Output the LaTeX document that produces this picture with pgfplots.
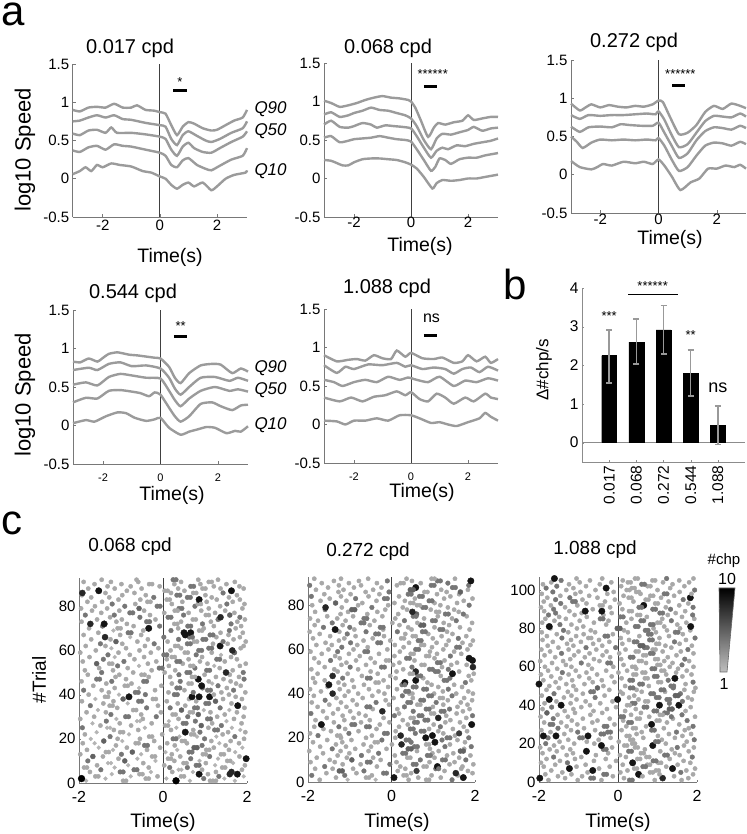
\documentclass[border=0pt]{standalone}
\usepackage{fontspec}
\setmainfont{Liberation Sans}
\usepackage{pgfplots}
\usepackage{pgfplotstable}
\pgfplotsset{compat=1.18}
\newcommand\fs[1]{\fontsize{#1bp}{#1bp}\selectfont}
\definecolor{cv}{RGB}{155,155,155}
\definecolor{axc}{RGB}{120,120,120}
\pgfplotsset{
 aax/.style={scale only axis, anchor=south west, clip=false,
   axis x line*=bottom, axis y line*=left, axis line style={axc, line width=0.8bp},
   xmin=-3.05, xmax=3.05, ymin=-0.5, ymax=1.5,
   xtick={-2,0,2}, ytick={-0.5,0,0.5,1,1.5},
   tick align=inside, major tick length=3bp, tick style={axc, line width=0.6bp},
   ticklabel style={font=\fs{15}},
   /pgf/number format/assume math mode=true},
 curve/.style={line width=2.4bp, color=cv, smooth, tension=0.35, no markers},
 zline/.style={black!75, line width=0.8bp, no markers},
 sig/.style={black, line width=3bp, no markers},
 cax/.style={scale only axis, anchor=south west, clip=false,
   axis x line*=bottom, axis y line*=left, axis line style={axc, line width=0.8bp},
   xmin=-2, xmax=2, ymin=0, xtick={-2,0,2},
   tick align=inside, major tick length=2bp, tick style={axc},
   ticklabel style={font=\fs{15}},
   xticklabel style={font=\fs{16}, yshift=-5bp},
   /pgf/number format/assume math mode=true},
 rast/.style={only marks, scatter, mark=*, point meta=explicit,
   point meta min=1, point meta max=10,
   scatter/use mapped color={draw=mapped color, fill=mapped color},
   visualization depends on={\thisrow{m} \as \msz},
   scatter/@pre marker code/.append style={/tikz/mark size=1.6bp+0.18bp*\msz}},
}
\pgfplotsset{colormap={chp}{rgb255(1cm)=(192,192,192) rgb255(3cm)=(168,168,168) rgb255(4cm)=(118,118,118) rgb255(6cm)=(78,78,78) rgb255(10cm)=(0,0,0)}}
\begin{document}
\begin{tikzpicture}[x=1bp,y=1bp]
\useasboundingbox (0,0) rectangle (747,834);
% panel labels
\node[anchor=base west, font=\fs{42}, inner sep=0] at (1,834-26) {a};
\node[anchor=base west, font=\fs{42}, inner sep=0] at (503,834-300) {b};
\node[anchor=base west, font=\fs{42}, inner sep=0] at (1,834-535) {c};

% ---------- axis 1: 0.017
\begin{axis}[aax, at={(72.7bp,617bp)}, width=174.3bp, height=153bp]
\addplot[zline] coordinates {(0,-0.5)(0,1.5)};
\addplot[curve] coordinates {(-3.05,0.90)(-2.8,0.88)(-2.5,0.93)(-2.2,0.94)(-1.9,0.93)(-1.6,0.98)(-1.3,0.93)(-1.0,0.93)(-0.8,0.96)(-0.5,0.90)(-0.2,0.89)(0,0.87)(0.2,0.85)(0.4,0.70)(0.6,0.57)(0.8,0.68)(1.0,0.74)(1.2,0.72)(1.5,0.66)(1.8,0.63)(2.0,0.64)(2.3,0.70)(2.6,0.76)(2.9,0.80)(3.05,0.90)};
\addplot[curve] coordinates {(-3.05,0.75)(-2.8,0.76)(-2.5,0.80)(-2.2,0.83)(-1.9,0.80)(-1.6,0.83)(-1.3,0.78)(-1.0,0.77)(-0.5,0.73)(0,0.70)(0.2,0.68)(0.4,0.52)(0.6,0.44)(0.8,0.57)(1.0,0.62)(1.3,0.56)(1.6,0.50)(1.8,0.48)(2.1,0.52)(2.5,0.60)(2.9,0.66)(3.05,0.75)};
\addplot[curve] coordinates {(-3.05,0.59)(-2.8,0.57)(-2.5,0.63)(-2.2,0.64)(-1.9,0.60)(-1.7,0.67)(-1.5,0.60)(-1.0,0.60)(-0.5,0.58)(0,0.55)(0.2,0.52)(0.4,0.38)(0.6,0.30)(0.8,0.42)(1.0,0.47)(1.2,0.40)(1.5,0.35)(1.8,0.34)(2.1,0.40)(2.5,0.48)(2.9,0.55)(3.05,0.62)};
\addplot[curve] coordinates {(-3.05,0.37)(-2.8,0.35)(-2.5,0.41)(-2.2,0.43)(-1.9,0.38)(-1.6,0.45)(-1.3,0.43)(-1.0,0.42)(-0.5,0.38)(0,0.34)(0.2,0.30)(0.4,0.18)(0.6,0.15)(0.8,0.24)(1.0,0.27)(1.3,0.18)(1.6,0.13)(1.8,0.11)(2.1,0.17)(2.5,0.25)(2.9,0.30)(3.05,0.40)};
\addplot[curve] coordinates {(-3.05,0.06)(-2.8,0.10)(-2.6,0.15)(-2.4,0.10)(-2.2,0.18)(-2.0,0.15)(-1.7,0.20)(-1.4,0.18)(-1.0,0.16)(-0.6,0.10)(-0.3,0.08)(0,0.03)(0.2,0.0)(0.4,-0.08)(0.6,-0.13)(0.8,-0.08)(1.0,-0.05)(1.2,-0.10)(1.5,-0.05)(1.8,-0.15)(2.0,-0.10)(2.3,0.0)(2.6,0.05)(3.0,0.08)(3.05,0.11)};
\addplot[sig] coordinates {(0.47,1.15)(0.94,1.15)};
\node[font=\fs{13}] at (axis cs:0.70,1.27) {*};
\end{axis}

% ---------- axis 2: 0.068
\begin{axis}[aax, at={(324bp,617bp)}, width=174bp, height=154bp, xticklabel style={yshift=3bp}]
\addplot[zline] coordinates {(0,-0.5)(0,1.5)};
\addplot[curve] coordinates {(-3.05,1.01)(-2.8,0.98)(-2.5,0.93)(-2.2,0.95)(-1.9,0.98)(-1.6,1.02)(-1.3,1.05)(-1.0,1.07)(-0.7,1.05)(-0.4,1.04)(-0.1,1.02)(0,1.00)(0.15,0.92)(0.35,0.75)(0.6,0.54)(0.8,0.66)(0.95,0.72)(1.2,0.70)(1.5,0.73)(1.8,0.75)(2.0,0.82)(2.2,0.76)(2.5,0.78)(2.8,0.80)(3.05,0.80)};
\addplot[curve] coordinates {(-3.05,0.83)(-2.8,0.86)(-2.5,0.80)(-2.2,0.82)(-2.0,0.85)(-1.7,0.88)(-1.4,0.92)(-1.1,0.89)(-0.8,0.88)(-0.5,0.85)(-0.2,0.82)(0,0.78)(0.2,0.68)(0.45,0.50)(0.7,0.38)(0.9,0.52)(1.1,0.58)(1.4,0.57)(1.7,0.60)(2.0,0.63)(2.2,0.67)(2.5,0.62)(2.8,0.65)(3.05,0.66)};
\addplot[curve] coordinates {(-3.05,0.70)(-2.8,0.75)(-2.5,0.67)(-2.2,0.66)(-2.0,0.68)(-1.7,0.72)(-1.4,0.70)(-1.2,0.66)(-0.9,0.69)(-0.6,0.68)(-0.3,0.67)(0,0.65)(0.2,0.55)(0.45,0.40)(0.7,0.27)(0.9,0.36)(1.1,0.40)(1.3,0.38)(1.6,0.43)(1.9,0.42)(2.2,0.45)(2.5,0.47)(2.8,0.49)(3.05,0.52)};
\addplot[curve] coordinates {(-3.05,0.53)(-2.8,0.55)(-2.5,0.47)(-2.2,0.49)(-2.0,0.51)(-1.7,0.52)(-1.4,0.53)(-1.1,0.55)(-0.8,0.53)(-0.5,0.51)(-0.2,0.50)(0,0.48)(0.2,0.38)(0.45,0.24)(0.7,0.10)(0.85,0.15)(1.0,0.26)(1.2,0.24)(1.4,0.19)(1.7,0.25)(2.0,0.27)(2.3,0.27)(2.6,0.30)(3.05,0.33)};
\addplot[curve] coordinates {(-3.05,0.24)(-2.8,0.23)(-2.6,0.20)(-2.4,0.17)(-2.2,0.17)(-2.0,0.21)(-1.7,0.25)(-1.4,0.26)(-1.1,0.26)(-0.8,0.25)(-0.5,0.24)(-0.2,0.21)(0,0.18)(0.2,0.13)(0.45,0.02)(0.75,-0.13)(0.9,-0.06)(1.1,-0.02)(1.4,-0.03)(1.7,-0.02)(2.0,0.0)(2.3,0.0)(2.6,0.02)(3.05,0.05)};
\addplot[sig] coordinates {(0.45,1.20)(0.91,1.20)};
\node[font=\fs{13}] at (axis cs:0.76,1.36) {******};
\end{axis}

% ---------- axis 3: 0.272
\begin{axis}[aax, at={(571bp,621bp)}, width=175bp, height=153bp, xmin=-3, xmax=3, xticklabel style={yshift=2bp}]
\addplot[zline] coordinates {(0,-0.5)(0,1.5)};
\addplot[curve] coordinates {(-3,0.93)(-2.7,0.84)(-2.5,0.88)(-2.3,0.92)(-2.0,0.88)(-1.7,0.91)(-1.4,0.89)(-1.1,0.88)(-0.8,0.90)(-0.5,0.89)(-0.2,0.92)(0,0.97)(0.15,0.95)(0.4,0.75)(0.7,0.53)(1.0,0.55)(1.3,0.65)(1.6,0.82)(1.9,0.90)(2.2,0.86)(2.5,0.93)(2.8,0.90)(3,0.87)};
\addplot[curve] coordinates {(-3,0.78)(-2.7,0.73)(-2.4,0.78)(-2.0,0.77)(-1.6,0.78)(-1.2,0.78)(-0.8,0.79)(-0.4,0.80)(-0.1,0.79)(0,0.83)(0.2,0.72)(0.45,0.52)(0.7,0.36)(1.0,0.40)(1.3,0.55)(1.6,0.70)(1.9,0.77)(2.2,0.76)(2.5,0.75)(2.8,0.80)(3,0.76)};
\addplot[curve] coordinates {(-3,0.63)(-2.7,0.56)(-2.4,0.62)(-2.0,0.63)(-1.6,0.62)(-1.3,0.66)(-1.0,0.65)(-0.6,0.64)(-0.2,0.64)(0,0.68)(0.2,0.55)(0.45,0.38)(0.7,0.22)(1.0,0.28)(1.3,0.45)(1.6,0.57)(1.9,0.62)(2.2,0.61)(2.5,0.59)(2.8,0.64)(3,0.61)};
\addplot[curve] coordinates {(-3,0.50)(-2.8,0.43)(-2.6,0.35)(-2.3,0.42)(-2.0,0.46)(-1.6,0.45)(-1.2,0.46)(-0.8,0.45)(-0.4,0.46)(-0.1,0.45)(0,0.48)(0.2,0.38)(0.45,0.20)(0.7,0.05)(1.0,0.10)(1.3,0.25)(1.6,0.38)(1.9,0.42)(2.2,0.41)(2.5,0.38)(2.8,0.43)(3,0.40)};
\addplot[curve] coordinates {(-3,0.18)(-2.7,0.10)(-2.3,0.07)(-2.1,0.10)(-1.9,0.14)(-1.6,0.12)(-1.2,0.17)(-0.8,0.15)(-0.5,0.17)(-0.2,0.14)(0,0.20)(0.2,0.12)(0.45,-0.02)(0.75,-0.20)(1.1,-0.10)(1.4,-0.05)(1.7,0.08)(2.0,0.08)(2.3,0.12)(2.6,0.10)(2.8,0.13)(3,0.08)};
\addplot[sig] coordinates {(0.47,1.16)(0.91,1.16)};
\node[font=\fs{13}] at (axis cs:0.75,1.31) {******};
\end{axis}

% ---------- axis 4: 0.544
\begin{axis}[aax, at={(73bp,370bp)}, width=175bp, height=154bp, xticklabel style={font=\fs{11}, yshift=-6bp}]
\addplot[zline] coordinates {(0,-0.5)(0,1.5)};
\addplot[curve] coordinates {(-3.05,0.83)(-2.8,0.82)(-2.5,0.87)(-2.2,0.83)(-2.0,0.88)(-1.8,0.93)(-1.5,0.95)(-1.1,0.92)(-0.8,0.91)(-0.6,0.90)(-0.2,0.88)(0,0.87)(0.3,0.76)(0.5,0.62)(0.7,0.55)(1.0,0.68)(1.4,0.78)(1.8,0.80)(2.1,0.79)(2.5,0.68)(2.8,0.74)(3.05,0.70)};
\addplot[curve] coordinates {(-3.05,0.72)(-2.5,0.75)(-2.2,0.72)(-1.8,0.80)(-1.4,0.82)(-1.0,0.77)(-0.5,0.78)(0,0.74)(0.3,0.62)(0.5,0.48)(0.7,0.40)(1.0,0.50)(1.4,0.62)(1.9,0.63)(2.4,0.58)(2.7,0.62)(3.05,0.58)};
\addplot[curve] coordinates {(-3.05,0.53)(-2.6,0.56)(-2.2,0.52)(-1.8,0.63)(-1.4,0.67)(-1.0,0.65)(-0.5,0.62)(0,0.61)(0.3,0.45)(0.5,0.33)(0.7,0.25)(1.0,0.35)(1.4,0.45)(1.9,0.50)(2.4,0.45)(2.7,0.47)(3.05,0.44)};
\addplot[curve] coordinates {(-3.05,0.30)(-2.6,0.36)(-2.2,0.35)(-1.8,0.45)(-1.4,0.46)(-1.0,0.44)(-0.7,0.42)(-0.4,0.38)(-0.2,0.43)(0,0.40)(0.3,0.23)(0.5,0.12)(0.7,0.05)(1.0,0.12)(1.4,0.28)(1.8,0.30)(2.1,0.25)(2.5,0.20)(2.8,0.26)(3.05,0.27)};
\addplot[curve] coordinates {(-3.05,0.03)(-2.6,0.07)(-2.3,0.05)(-1.9,0.12)(-1.5,0.17)(-1.2,0.16)(-0.9,0.10)(-0.5,0.06)(-0.2,0.08)(0,0.10)(0.3,-0.03)(0.7,-0.12)(1.0,-0.08)(1.3,-0.05)(1.6,-0.02)(1.9,-0.03)(2.3,-0.10)(2.6,-0.07)(2.8,-0.08)(3.05,-0.01)};
\addplot[sig] coordinates {(0.47,1.15)(0.94,1.15)};
\node[font=\fs{13}] at (axis cs:0.70,1.29) {**};
\end{axis}

% ---------- axis 5: 1.088
\begin{axis}[aax, at={(324bp,371bp)}, width=174bp, height=154bp, xticklabel style={font=\fs{11}, yshift=-6bp}]
\addplot[zline] coordinates {(0,-0.5)(0,1.5)};
\addplot[curve] coordinates {(-3.05,0.90)(-2.6,0.82)(-2.2,0.84)(-1.9,0.85)(-1.6,0.83)(-1.3,0.90)(-1.0,0.86)(-0.7,0.85)(-0.5,0.96)(-0.2,0.88)(0,0.93)(0.4,0.86)(0.8,0.85)(1.1,0.87)(1.5,0.80)(1.8,0.82)(2.0,0.90)(2.3,0.82)(2.6,0.88)(2.8,0.80)(3.05,0.85)};
\addplot[curve] coordinates {(-3.05,0.77)(-2.6,0.67)(-2.3,0.75)(-2.0,0.72)(-1.5,0.78)(-1.0,0.77)(-0.5,0.80)(-0.2,0.75)(0,0.77)(0.4,0.72)(0.8,0.74)(1.2,0.72)(1.5,0.66)(1.8,0.72)(2.1,0.74)(2.4,0.68)(2.7,0.75)(3.05,0.70)};
\addplot[curve] coordinates {(-3.05,0.58)(-2.7,0.55)(-2.4,0.50)(-2.0,0.55)(-1.6,0.58)(-1.2,0.55)(-0.8,0.62)(-0.4,0.58)(-0.1,0.61)(0.2,0.58)(0.6,0.55)(1.0,0.62)(1.5,0.50)(1.9,0.57)(2.3,0.55)(2.7,0.60)(3.05,0.57)};
\addplot[curve] coordinates {(-3.05,0.35)(-2.5,0.30)(-2.1,0.35)(-1.7,0.30)(-1.3,0.36)(-0.9,0.38)(-0.5,0.43)(-0.2,0.38)(0,0.42)(0.3,0.33)(0.6,0.30)(0.9,0.40)(1.2,0.35)(1.5,0.27)(1.9,0.35)(2.2,0.30)(2.6,0.40)(2.8,0.35)(3.05,0.33)};
\addplot[curve] coordinates {(-3.05,0.05)(-2.6,0.04)(-2.3,0.0)(-2.0,0.05)(-1.6,0.05)(-1.2,0.08)(-0.8,0.05)(-0.4,0.12)(0,0.12)(0.3,0.08)(0.7,0.02)(1.0,0.03)(1.3,0.0)(1.6,-0.02)(2.0,0.03)(2.4,0.08)(2.6,0.15)(2.8,0.10)(3.05,0.05)};
\addplot[sig] coordinates {(0.45,1.16)(0.90,1.16)};
\node[font=\fs{16}] at (axis cs:0.72,1.38) {ns};
\end{axis}

% labels panel a
\node[font=\fs{20}] at (130,834-48) {0.017 cpd};
\node[font=\fs{20}] at (388,834-48) {0.068 cpd};
\node[font=\fs{20}] at (634,834-42) {0.272 cpd};
\node[font=\fs{20}] at (133,834-293) {0.544 cpd};
\node[font=\fs{20}] at (387,834-288) {1.088 cpd};
\node[font=\fs{19.5}] at (170,834-257) {Time(s)};
\node[font=\fs{19.5}] at (420,834-246) {Time(s)};
\node[font=\fs{19.5}] at (670,834-239) {Time(s)};
\node[font=\fs{19.5}] at (172,834-495) {Time(s)};
\node[font=\fs{19.5}] at (422,834-492) {Time(s)};
\node[font=\fs{22}, rotate=90] at (25,834-150) {log10 Speed};
\node[font=\fs{22}, rotate=90] at (25,834-395) {log10 Speed};
\node[font=\fs{17}\itshape, anchor=west] at (251,834-109) {Q90};
\node[font=\fs{17}\itshape, anchor=west] at (251,834-131) {Q50};
\node[font=\fs{17}\itshape, anchor=west] at (251,834-171) {Q10};
\node[font=\fs{17}\itshape, anchor=west] at (251,834-368) {Q90};
\node[font=\fs{17}\itshape, anchor=west] at (251,834-390) {Q50};
\node[font=\fs{17}\itshape, anchor=west] at (251,834-425) {Q10};

% ---------- panel b
\begin{axis}[at={(582bp,372bp)}, anchor=south west, scale only axis, width=163bp, height=174bp,
  xmin=0, xmax=6, ymin=-0.5, ymax=4, clip=false,
  axis x line*=bottom, axis y line*=left, axis line style={black!45, line width=0.8bp},
  xtick={1,2,3,4,5}, xticklabels={0.017,0.068,0.272,0.544,1.088},
  xticklabel style={rotate=90, anchor=east, font=\fs{15.5}},
  ytick={0,1,2,3,4}, yticklabel style={font=\fs{15.5}},
  tick align=inside, major tick length=2bp, tick style={black!45},
  /pgf/number format/assume math mode=true]
\addplot[black!45, line width=0.8bp, no markers] coordinates {(0,0)(6,0)};
\addplot[ybar, bar width=0.55, fill=black, draw=black,
  error bars/.cd, y dir=both, y explicit,
  error bar style={line width=1.6bp, black!40},
  error mark options={rotate=90, black!40, mark size=3bp, line width=1.6bp}]
  table[x=x, y=y, y error plus=ep, y error minus=em, row sep=\\]{
  x y ep em\\ 1 2.25 0.67 0.70\\ 2 2.60 0.60 0.57\\ 3 2.92 0.63 0.62\\ 4 1.80 0.60 0.60\\ 5 0.45 0.50 0.50\\ };
\addplot[black, line width=0.8bp, no markers] coordinates {(1.7,3.83)(3.55,3.83)};
\node[font=\fs{13}] at (axis cs:2.6,4.05) {******};
\node[font=\fs{13}] at (axis cs:1,3.28) {***};
\node[font=\fs{13}] at (axis cs:4,2.78) {**};
\node[font=\fs{18}] at (axis cs:5,1.42) {ns};
\end{axis}
\node[font=\fs{17}, rotate=90] at (544,834-370) {Δ\#chp/s};

% ---------- panel c1
\begin{axis}[cax, at={(79bp,51bp)}, width=168bp, height=205.5bp, ymax=93, ytick={0,20,40,60,80}]
\addplot[rast] table[x=x,y=y,meta=m,row sep=\\]{x y m\\
-1.83 1 2\\ -0.95 1 3\\ -0.88 1 3\\ 0.31 1 10\\ 0.64 1 2\\ 1.12 1 3\\ 1.19 1 3\\ 1.71 1 2\\
-1.94 2 10\\ -1.37 2 2\\ -0.41 2 3\\ 0.08 2 2\\ 0.97 2 4\\ 1.46 2 2\\
-1.61 3 3\\ -0.77 3 2\\ -0.13 3 3\\ 0.43 3 3\\ 0.50 3 3\\ 1.33 3 4\\ 1.92 3 2\\
-1.22 4 2\\ -0.56 4 3\\ 0.86 4 9\\ 1.07 4 3\\ 1.59 4 8\\ 1.77 4 9\\
-1.74 5 3\\ -1.02 5 4\\ -0.29 5 2\\ 0.22 5 3\\ 0.71 5 2\\ 1.26 5 3\\ 1.63 5 8\\
-1.48 6 4\\ -0.69 6 4\\ -0.62 6 4\\ 0.37 6 2\\ 0.93 6 3\\ 1.88 6 3\\
-1.88 7 3\\ -1.15 7 2\\ -0.34 7 3\\ 0.16 7 4\\ 0.58 7 4\\ 1.41 7 3\\ 1.48 7 3\\
-1.57 8 3\\ -0.83 8 2\\ 0.03 8 3\\ 0.79 8 4\\ 1.24 8 2\\ 1.95 8 3\\
-1.31 9 2\\ -1.24 9 2\\ -0.47 9 3\\ 0.49 9 3\\ 1.02 9 3\\ 1.67 9 2\\
-1.79 10 4\\ -0.91 10 5\\ -0.18 10 2\\ 0.27 10 3\\ 0.87 10 2\\ 1.53 10 3\\
-1.06 11 3\\ -0.61 11 2\\ 0.12 11 3\\ 0.66 11 4\\ 1.31 11 2\\ 1.98 11 9\\
-1.67 12 5\\ -1.43 12 3\\ -0.26 12 3\\ 0.41 12 3\\ 1.11 12 4\\ 1.82 12 3\\
-1.97 13 3\\ -0.99 13 4\\ -0.52 13 2\\ 0.21 13 3\\ 0.95 13 3\\ 1.38 13 3\\ 1.45 13 3\\
-1.36 14 3\\ -0.73 14 5\\ 0.06 14 2\\ 0.62 14 4\\ 0.69 14 4\\ 1.72 14 2\\
-1.81 15 3\\ -1.19 15 2\\ -0.38 15 3\\ 0.34 15 2\\ 1.03 15 3\\ 1.57 15 3\\
-1.53 16 2\\ -0.86 16 3\\ -0.07 16 3\\ 0.74 16 5\\ 1.21 16 3\\ 1.89 16 2\\
-1.12 17 3\\ -0.44 17 4\\ 0.28 17 3\\ 0.93 17 4\\ 1.49 17 3\\
-1.91 18 3\\ -1.63 18 2\\ -0.65 18 3\\ 0.10 18 3\\ 0.57 18 3\\ 1.34 18 2\\ 1.81 18 3\\
-1.41 19 5\\ -0.97 19 2\\ -0.21 19 3\\ 0.45 19 3\\ 1.15 19 3\\ 1.61 19 3\\
-1.72 20 2\\ -1.08 20 3\\ -0.55 20 3\\ 0.24 20 4\\ 0.99 20 4\\ 1.93 20 3\\
-1.26 21 4\\ -0.33 21 3\\ 0.39 21 2\\ 0.81 21 2\\ 1.27 21 2\\ 1.71 21 4\\
-1.86 22 3\\ -0.81 22 2\\ -0.02 22 3\\ 0.67 22 3\\ 1.42 22 3\\
-1.58 23 2\\ -1.02 23 3\\ 0.53 23 9\\ 0.88 23 4\\ 1.55 23 3\\ 1.96 23 3\\
-1.17 24 3\\ -0.59 24 3\\ 0.19 24 3\\ 0.72 24 3\\ 1.23 24 4\\ 1.84 24 2\\
-1.92 25 4\\ -1.33 25 2\\ -0.43 25 2\\ 0.32 25 2\\ 1.08 25 3\\ 1.64 25 2\\
-1.49 26 3\\ -0.76 26 3\\ 0.05 26 3\\ 0.91 26 5\\ 1.39 26 4\\
-1.68 27 2\\ -1.03 27 3\\ -0.27 27 3\\ 0.48 27 4\\ 1.17 27 3\\ 1.87 27 3\\
-1.35 28 4\\ -0.62 28 2\\ 0.14 28 2\\ 0.77 28 4\\ 1.51 28 2\\
-1.97 29 3\\ -1.11 29 2\\ -0.48 29 3\\ 0.37 29 3\\ 1.06 29 4\\ 1.69 29 3\\
-1.64 30 3\\ -0.89 30 4\\ -0.16 30 4\\ 0.59 30 4\\ 1.29 30 3\\ 1.92 30 3\\
-1.24 31 4\\ -0.52 31 3\\ 0.23 31 3\\ 0.84 31 5\\ 1.47 31 3\\
-1.82 32 3\\ -1.36 32 3\\ -0.05 32 3\\ 0.64 32 3\\ 1.13 32 3\\ 1.76 32 3\\
-1.55 33 2\\ -0.71 33 3\\ 0.44 33 5\\ 0.97 33 2\\ 1.58 33 2\\
-1.09 34 3\\ -0.39 34 4\\ 0.17 34 4\\ 0.75 34 4\\ 1.36 34 4\\ 1.94 34 3\\
-1.73 35 4\\ -1.27 35 3\\ -0.12 35 3\\ 0.53 35 3\\ 1.78 35 9\\
-1.42 36 3\\ -0.84 36 2\\ 0.35 36 3\\ 1.02 36 4\\ 1.63 36 3\\
-1.93 37 3\\ -1.18 37 3\\ -0.58 37 4\\ 0.09 37 3\\ 0.79 37 3\\ 1.25 37 5\\
-1.61 38 2\\ -0.95 38 5\\ -0.24 38 3\\ 0.62 38 3\\ 1.43 38 3\\ 1.88 38 3\\
-0.81 39 9\\ 0.69 39 9\\ 0.86 39 9\\ 1.11 39 9\\ -1.38 39 3\\ 1.73 39 3\\
-1.77 40 3\\ -1.05 40 2\\ -0.42 40 4\\ 0.27 40 4\\ 1.21 40 3\\ 1.57 40 3\\
-1.29 41 3\\ -0.66 41 4\\ 0.13 41 3\\ 0.72 41 4\\ 1.39 41 3\\ 1.96 41 3\\
-1.89 42 4\\ -1.46 42 3\\ -0.19 42 3\\ 0.51 42 3\\ 1.06 42 4\\ 1.68 42 4\\
-1.15 43 3\\ -0.57 43 2\\ 0.33 43 4\\ 0.94 43 4\\ 1.52 43 3\\
-1.66 44 3\\ -0.91 44 3\\ -0.04 44 3\\ 0.92 44 9\\ 1.31 44 4\\ 1.85 44 3\\
-1.35 45 3\\ -0.75 45 3\\ 0.21 45 3\\ 0.61 45 3\\ 1.17 45 2\\ 1.74 45 3\\
-1.94 46 3\\ -1.22 46 4\\ -0.46 46 4\\ 0.41 46 4\\ 1.09 46 3\\ 1.61 46 3\\
-1.58 47 4\\ -0.88 47 3\\ 0.84 47 9\\ 1.44 47 3\\ 1.93 47 4\\
-1.13 48 3\\ -0.34 48 3\\ 0.17 48 3\\ 0.69 48 3\\ 1.26 48 3\\ 1.81 48 3\\
-1.79 49 3\\ -1.04 49 3\\ -0.51 49 3\\ 0.38 49 4\\ 0.99 49 3\\ 1.59 49 3\\
-1.46 50 4\\ -0.71 50 3\\ 0.04 50 3\\ 0.57 50 4\\ 1.50 50 8\\ 1.91 50 4\\
-1.86 51 3\\ -1.19 51 3\\ -0.27 51 3\\ 0.29 51 3\\ 1.04 51 4\\ 1.66 51 3\\
-1.52 52 3\\ -0.84 52 3\\ -0.09 52 4\\ 0.76 52 4\\ 1.35 52 3\\
-1.08 53 4\\ -0.57 53 2\\ 0.14 53 3\\ 0.65 53 3\\ 1.22 53 2\\ 1.83 53 3\\
-1.58 54 5\\ -1.28 54 3\\ -0.36 54 3\\ 0.47 54 3\\ 1.06 54 3\\ 1.97 54 3\\
-1.91 55 3\\ -0.93 55 4\\ -0.16 55 3\\ 0.33 55 4\\ 0.88 55 3\\ 1.47 55 3\\
-1.42 56 4\\ -0.68 56 3\\ 0.09 56 3\\ 0.61 56 3\\ 1.28 56 4\\ 1.76 56 3\\
-1.75 57 3\\ -1.15 57 2\\ -0.45 57 3\\ 0.21 57 3\\ 0.93 57 3\\ 1.62 57 3\\
-1.31 58 4\\ -0.79 58 3\\ 0.02 58 4\\ 0.79 58 4\\ 1.38 58 2\\
-1.97 59 3\\ -1.06 59 3\\ -0.29 59 3\\ 0.52 59 3\\ 1.16 59 3\\ 1.70 59 5\\
-1.60 60 3\\ -0.56 60 3\\ 0.18 60 3\\ 0.85 60 4\\ 1.65 60 8\\
-1.23 61 2\\ -0.88 61 3\\ -0.11 61 3\\ 0.43 61 3\\ 1.09 61 4\\ 1.85 61 3\\
-1.84 62 3\\ -1.37 62 3\\ -0.43 62 3\\ 0.29 62 3\\ 1.36 62 9\\ 1.92 62 3\\
-1.49 63 4\\ -0.97 63 3\\ -0.21 63 4\\ 0.58 63 4\\ 1.19 63 3\\ 1.54 63 3\\
-1.12 64 5\\ -0.61 64 3\\ 0.11 64 3\\ 0.74 64 3\\ 1.43 64 4\\ 1.97 64 3\\
-1.71 65 3\\ -1.25 65 3\\ -0.36 65 3\\ 0.37 65 4\\ 0.95 65 4\\ 1.68 65 3\\
-1.38 66 8\\ -0.78 66 2\\ 0.02 66 4\\ 0.63 66 4\\ 1.27 66 3\\ 1.83 66 3\\
-1.89 67 3\\ -1.02 67 3\\ -0.52 67 3\\ 0.53 67 9\\ 1.12 67 4\\ 1.56 67 3\\
-1.54 68 3\\ -0.83 68 4\\ 0.50 68 9\\ 0.66 68 9\\ 1.37 68 3\\ 1.90 68 3\\
-1.18 69 2\\ -0.47 69 3\\ 0.19 69 4\\ 0.86 69 3\\ 1.58 69 4\\
-0.34 70 9\\ -1.76 70 3\\ -1.08 70 3\\ 0.36 70 3\\ 0.97 70 3\\ 1.73 70 3\\
-1.44 71 4\\ -0.70 71 3\\ -0.08 71 4\\ 0.59 71 4\\ 1.21 71 3\\ 1.86 71 3\\
-1.73 72 8\\ -1.40 72 9\\ -0.86 72 3\\ 0.27 72 3\\ 0.94 72 4\\ 1.62 72 4\\
-1.94 73 3\\ -1.11 73 3\\ -0.39 73 4\\ 0.43 73 3\\ 1.14 73 3\\ 1.77 73 3\\
-1.57 74 3\\ -0.98 74 3\\ -0.18 74 3\\ 0.71 74 3\\ 1.31 74 4\\ 1.95 74 3\\
-1.26 75 3\\ -0.55 75 4\\ 0.12 75 4\\ 1.37 75 8\\ 1.83 75 4\\
-1.85 76 4\\ -1.16 76 4\\ -0.31 76 3\\ 0.49 76 4\\ 1.02 76 3\\ 1.59 76 5\\
-1.47 77 3\\ -0.79 77 4\\ 0.03 77 3\\ 0.61 77 3\\ 1.24 77 3\\ 1.70 77 3\\
-1.69 78 3\\ -1.04 78 3\\ -0.45 78 3\\ 0.28 78 3\\ 0.91 78 3\\ 1.48 78 3\\
-1.95 79 3\\ -1.33 79 3\\ -0.57 79 5\\ 0.38 79 4\\ 1.09 79 3\\ 1.89 79 3\\
-1.62 80 3\\ -0.91 80 4\\ -0.14 80 4\\ 0.76 80 4\\ 1.36 80 3\\
-1.21 81 4\\ -0.66 81 3\\ 0.21 81 3\\ 0.83 81 3\\ 1.52 81 4\\ 1.94 81 3\\
-1.80 82 3\\ -1.45 82 3\\ -0.37 82 3\\ 0.46 82 3\\ 1.04 82 3\\ 1.66 82 3\\
-1.06 83 3\\ -0.54 83 3\\ 0.09 83 3\\ 0.86 83 9\\ 1.28 83 3\\ 1.83 83 3\\
-1.71 84 3\\ -1.28 84 3\\ -0.22 84 4\\ 0.58 84 4\\ 1.16 84 3\\ 1.57 84 3\\
-1.93 85 3\\ -0.97 85 3\\ -0.41 85 3\\ 0.33 85 4\\ 1.01 85 3\\ 1.76 85 3\\
-1.92 86 8\\ -1.37 86 3\\ -0.68 86 3\\ 0.19 86 3\\ 0.72 86 3\\ 1.43 86 4\\
-1.53 87 9\\ -0.86 87 3\\ 0.04 87 3\\ 0.51 87 3\\ 1.63 87 9\\
-1.78 88 3\\ -1.15 88 3\\ -0.51 88 3\\ 0.36 88 3\\ 0.94 88 3\\ 1.37 88 3\\ 1.92 88 3\\
-1.32 89 3\\ -0.77 89 3\\ -0.08 89 3\\ 0.66 89 4\\ 1.21 89 3\\ 1.82 89 3\\
-1.63 90 3\\ -0.99 90 3\\ -0.33 90 3\\ 0.27 90 3\\ 0.89 90 3\\ 1.51 90 3\\
-1.89 91 3\\ -1.24 91 3\\ -0.59 91 3\\ 0.43 91 3\\ 1.09 91 3\\ 1.71 91 3\\
-1.46 92 3\\ -0.63 92 3\\ 0.24 92 4\\ 0.84 92 3\\ 1.31 92 3\\
};
\addplot[rast] table[x=x,y=y,meta=m,row sep=\\]{x y m\\
1.26 1 3\\ -0.34 2 3\\ -1.54 3 3\\ -0.49 4 3\\ -0.95 5 4\\ 0.44 6 2\\ -1.81 7 3\\ 0.86 8 4\\ 0.56 9 3\\ 1.60 10 3\\
0.19 11 3\\ -0.19 12 3\\ 1.02 13 3\\ -1.29 14 3\\ 1.10 15 3\\ 0.81 16 5\\ -0.37 17 4\\ -0.58 18 3\\ 0.52 19 3\\ 0.31 20 4\\
-0.26 21 3\\ 0.74 22 3\\ -0.95 23 3\\ 1.30 24 4\\ -1.26 25 2\\ 0.12 26 3\\ 0.55 27 4\\ -0.55 28 2\\ 1.13 29 4\\ -0.82 30 4\\
0.30 31 3\\ 0.71 32 3\\ -0.64 33 3\\ 0.82 34 4\\ -1.20 35 3\\ 1.09 36 4\\ -0.51 37 4\\ -0.17 38 3\\ -1.31 39 3\\ 0.34 40 4\\
-0.59 41 4\\ 1.13 42 4\\ 0.40 43 4\\ -0.84 44 3\\ 0.68 45 3\\ -0.39 46 4\\ -1.51 47 4\\ 0.76 48 3\\ -0.44 49 3\\ 0.64 50 4\\
1.11 51 4\\ -0.02 52 4\\ 0.72 53 3\\ -1.21 54 3\\ 0.40 55 4\\ 1.35 56 4\\ 0.28 57 3\\ 0.09 58 4\\ 0.59 59 3\\ 0.92 60 4\\
1.16 61 4\\ 0.36 62 3\\ 0.65 63 4\\ 0.81 64 3\\ 1.02 65 4\\ 0.70 66 4\\ 1.19 67 4\\ -0.76 68 4\\ 0.93 69 3\\ -1.01 70 3\\
0.66 71 4\\ 0.34 72 3\\ -0.32 73 4\\ 0.78 74 3\\ 0.19 75 4\\ 1.09 76 3\\ -0.72 77 4\\ 0.35 78 3\\ 0.45 79 4\\ -0.07 80 4\\
0.90 81 3\\ -0.30 82 3\\ 0.16 83 3\\ 0.65 84 4\\ 0.40 85 4\\ 0.79 86 3\\ 0.11 87 3\\ 1.01 88 3\\ 0.73 89 4\\ -0.26 90 3\\
1.16 91 3\\ 0.31 92 4\\
};
\addplot[zline] coordinates {(0,0)(0,93)};
\end{axis}

% ---------- panel c2
\begin{axis}[cax, at={(308bp,52bp)}, width=167bp, height=205.5bp, ymax=93, ytick={0,20,40,60,80}]
\addplot[rast] table[x=x,y=y,meta=m,row sep=\\]{x y m\\
-1.72 1 3\\ -1.05 1 2\\ -0.38 1 2\\ 0.41 1 3\\ 0.83 1 3\\ 1.45 1 4\\
-1.33 2 3\\ -0.61 2 3\\ 0.06 2 9\\ 0.64 2 3\\ 1.18 2 3\\ 1.72 2 9\\
-1.91 3 4\\ -1.12 3 4\\ -0.47 3 3\\ 0.29 3 3\\ 0.96 3 3\\ 1.59 3 3\\
-1.56 4 3\\ -0.84 4 3\\ -0.19 4 4\\ 0.47 4 3\\ 1.54 4 8\\ 1.94 4 3\\
-1.25 5 5\\ -0.66 5 4\\ 0.15 5 3\\ 0.60 5 7\\ 1.27 5 3\\ 1.83 5 3\\
-1.83 6 3\\ -1.41 6 3\\ -0.92 6 3\\ 0.33 6 3\\ 1.06 6 4\\ 1.67 6 3\\
-1.60 7 4\\ -0.35 7 3\\ 0.21 7 3\\ 0.77 7 3\\ 1.10 7 9\\ 1.70 7 3\\
-1.17 8 3\\ -0.74 8 3\\ -0.04 8 4\\ 0.52 8 4\\ 1.39 8 3\\ 1.96 8 3\\
-1.94 9 3\\ -1.36 9 3\\ -0.58 9 4\\ 0.12 9 3\\ 0.91 9 3\\ 1.51 9 3\\
-1.48 10 3\\ -0.95 10 5\\ -0.26 10 3\\ 0.69 10 4\\ 1.22 10 4\\ 1.78 10 4\\
-1.79 11 3\\ -1.07 11 3\\ -0.44 11 3\\ 0.38 11 3\\ 1.03 11 3\\ 1.62 11 3\\
-1.29 12 3\\ -0.72 12 4\\ 0.08 12 3\\ 0.86 12 4\\ 1.33 12 3\\ 1.89 12 3\\
-1.64 13 3\\ -1.01 13 3\\ -0.31 13 4\\ 0.27 13 4\\ 0.98 13 3\\ 1.48 13 3\\
-1.97 14 3\\ -1.22 14 3\\ -0.55 14 3\\ 0.61 14 3\\ 1.13 14 3\\ 1.65 14 5\\
-1.42 15 4\\ -0.87 15 3\\ -0.12 15 3\\ 0.40 15 5\\ 0.92 15 3\\ 1.74 15 3\\
-1.71 16 3\\ -1.09 16 3\\ -0.49 16 3\\ 0.55 16 4\\ 1.28 16 4\\ 1.91 16 4\\
-1.33 17 3\\ -0.67 17 3\\ 0.01 17 3\\ 0.24 17 8\\ 0.83 17 3\\ 1.40 17 3\\
-1.88 18 3\\ -1.18 18 3\\ -0.40 18 3\\ 0.47 18 4\\ 1.04 18 9\\ 1.76 18 3\\
-1.54 19 3\\ -0.96 19 3\\ -0.23 19 4\\ 0.35 19 4\\ 1.21 19 4\\ 1.58 19 3\\
-1.21 20 3\\ -0.61 20 3\\ 0.09 20 3\\ 0.82 20 9\\ 1.33 20 4\\ 1.85 20 4\\
-1.76 21 4\\ -1.30 21 3\\ -0.47 21 3\\ 0.22 21 8\\ 0.98 21 9\\ 1.52 21 3\\
-1.95 22 3\\ -1.02 22 4\\ -0.17 22 4\\ 0.57 22 4\\ 1.24 22 3\\ 1.62 22 7\\
-1.45 23 3\\ -0.79 23 3\\ 0.10 23 3\\ 0.71 23 4\\ 1.12 23 3\\ 1.81 23 3\\
-1.63 24 3\\ -1.11 24 3\\ -0.36 24 3\\ 0.45 24 4\\ 0.90 24 3\\ 1.47 24 3\\
-1.85 25 3\\ -1.26 25 4\\ -0.60 25 4\\ 0.18 25 3\\ 1.17 25 4\\ 1.73 25 3\\
-1.68 26 9\\ -0.95 26 4\\ -0.28 26 3\\ 0.39 26 3\\ 1.01 26 3\\ 1.92 26 9\\
-1.38 27 3\\ -0.73 27 3\\ -0.05 27 3\\ 0.55 27 4\\ 1.29 27 3\\ 1.64 27 3\\
-1.82 28 3\\ -1.13 28 3\\ -0.52 28 3\\ 0.27 28 3\\ 0.80 28 4\\ 1.41 28 3\\
-1.55 29 3\\ -0.91 29 3\\ -0.19 29 3\\ 0.46 29 3\\ 1.12 29 8\\ 1.79 29 3\\
-1.17 30 3\\ -0.62 30 3\\ 0.07 30 4\\ 0.66 30 4\\ 1.31 30 3\\ 1.94 30 4\\
-1.93 31 4\\ -1.40 31 3\\ -0.78 31 3\\ 0.18 31 3\\ 0.95 31 3\\ 1.56 31 3\\
-1.64 32 3\\ -0.99 32 3\\ -0.22 32 8\\ 0.52 32 4\\ 1.19 32 4\\ 1.71 32 3\\
-1.28 33 3\\ -0.45 33 3\\ 0.14 33 3\\ 0.83 33 4\\ 1.39 33 4\\ 1.87 33 3\\
-1.77 34 3\\ -1.08 34 3\\ -0.59 34 4\\ 0.31 34 4\\ 0.99 34 3\\ 1.58 34 3\\
-1.49 35 3\\ -0.83 35 3\\ -0.06 35 3\\ 0.62 35 3\\ 1.24 35 3\\ 1.82 35 3\\
-1.91 36 3\\ -1.21 36 3\\ -0.37 36 4\\ 0.39 36 4\\ 1.07 36 4\\ 1.66 36 3\\
-1.59 37 4\\ -0.93 37 3\\ -0.14 37 3\\ 0.70 37 4\\ 1.35 37 3\\ 1.93 37 3\\
-1.32 38 3\\ -0.69 38 3\\ 0.05 38 3\\ 0.51 38 3\\ 1.16 38 3\\ 1.74 38 3\\
-1.86 39 3\\ -1.12 39 3\\ -0.46 39 3\\ 0.26 39 4\\ 0.89 39 4\\ 1.45 39 4\\
-1.41 40 8\\ -0.80 40 3\\ -0.17 40 3\\ 0.43 40 3\\ 1.02 40 3\\ 1.55 40 3\\ 1.95 40 3\\
-1.69 41 3\\ -1.03 41 3\\ -0.31 41 3\\ 0.34 41 4\\ 1.23 41 3\\ 1.84 41 3\\
-1.95 42 3\\ -1.24 42 3\\ -0.54 42 3\\ 0.13 42 3\\ 0.77 42 4\\ 1.36 42 4\\
-1.53 43 3\\ -0.90 43 3\\ -0.08 43 3\\ 0.52 43 4\\ 1.12 43 3\\ 1.69 43 3\\
-1.50 44 9\\ -1.13 44 3\\ -0.66 44 3\\ 0.25 44 4\\ 0.96 44 3\\ 1.50 44 3\\
-1.83 45 3\\ -1.27 45 3\\ -0.38 45 3\\ 0.32 45 9\\ 0.86 45 3\\ 1.77 45 4\\
-1.60 46 3\\ -0.94 46 3\\ -0.19 46 3\\ 0.58 46 9\\ 1.26 46 4\\ 1.91 46 3\\
-1.88 47 3\\ -1.17 47 4\\ -0.58 47 4\\ 0.10 47 3\\ 0.76 47 3\\ 1.40 47 4\\
-1.41 48 8\\ -0.71 48 3\\ -0.03 48 3\\ 0.63 48 4\\ 1.18 48 3\\ 1.85 48 3\\
-1.77 49 3\\ -1.05 49 3\\ -0.33 49 3\\ 0.44 49 3\\ 1.46 49 9\\ 1.97 49 3\\
-1.29 50 3\\ -0.50 50 3\\ 0.12 50 3\\ 0.58 50 8\\ 1.05 50 4\\ 1.62 50 3\\
-1.92 51 3\\ -1.37 51 3\\ -0.80 51 3\\ 0.28 51 3\\ 0.91 51 4\\ 1.36 51 4\\
-1.60 52 3\\ -0.99 52 4\\ -0.24 52 4\\ 0.49 52 4\\ 1.21 52 3\\ 1.95 52 8\\
-1.20 53 3\\ -0.61 53 3\\ 0.04 53 3\\ 0.72 53 3\\ 1.43 53 3\\ 1.80 53 3\\
-1.74 54 3\\ -1.08 54 3\\ -0.40 54 3\\ 0.19 54 3\\ 1.10 54 4\\ 1.57 54 3\\
-1.46 55 4\\ -0.85 55 3\\ -0.13 55 3\\ 0.55 55 3\\ 1.27 55 3\\ 1.94 55 9\\
-1.85 56 3\\ -1.24 56 3\\ -0.50 56 3\\ 0.36 56 4\\ 1.03 56 3\\ 1.86 56 9\\
-1.35 57 3\\ -0.76 57 3\\ 0.07 57 3\\ 0.83 57 3\\ 1.41 57 4\\
-1.67 58 3\\ -1.02 58 3\\ -0.30 58 3\\ 0.46 58 3\\ 1.09 58 3\\ 1.67 58 3\\
-1.94 59 3\\ -1.29 59 4\\ -0.64 59 4\\ 0.20 59 3\\ 0.92 59 3\\ 1.50 59 3\\
-1.51 60 3\\ -0.91 60 3\\ -0.10 60 3\\ 0.58 60 4\\ 1.24 60 3\\ 1.82 60 3\\
-1.19 61 4\\ -0.57 61 3\\ 0.29 61 3\\ 0.97 61 3\\ 1.56 61 4\\
-1.80 62 3\\ -1.43 62 3\\ -0.82 62 3\\ 0.08 62 3\\ 0.71 62 3\\ 1.31 62 3\\ 1.89 62 3\\
-1.58 63 3\\ -0.98 63 4\\ -0.33 63 4\\ 0.42 63 3\\ 1.08 63 3\\ 1.70 63 3\\
-1.26 64 3\\ -0.67 64 3\\ -0.03 64 3\\ 0.64 64 4\\ 1.37 64 3\\ 1.95 64 3\\
-1.88 65 3\\ -1.13 65 3\\ -0.45 65 3\\ 0.23 65 3\\ 0.99 65 3\\ 1.60 65 4\\
-1.47 66 3\\ -0.86 66 3\\ -0.18 66 3\\ 0.51 66 3\\ 1.20 66 3\\ 1.79 66 3\\
-1.72 67 3\\ -1.06 67 4\\ -0.38 67 4\\ 0.33 67 3\\ 0.88 67 3\\ 1.46 67 3\\
-1.96 68 3\\ -1.25 68 3\\ -0.61 68 4\\ 0.14 68 4\\ 0.74 68 4\\ 1.33 68 3\\
-1.35 69 9\\ -0.89 69 3\\ -0.20 69 3\\ 0.48 69 3\\ 1.16 69 4\\ 1.87 69 3\\
-1.63 70 4\\ -1.00 70 4\\ -0.27 70 4\\ 0.40 70 3\\ 1.03 70 3\\ 1.64 70 3\\
-1.84 71 3\\ -1.17 71 3\\ -0.52 71 3\\ 0.19 71 3\\ 0.70 71 5\\ 1.38 71 3\\
-1.42 72 4\\ -0.73 72 4\\ 0.02 72 3\\ 0.62 72 3\\ 1.25 72 3\\ 1.93 72 3\\
-1.76 73 3\\ -1.10 73 3\\ -0.41 73 3\\ 0.31 73 4\\ 0.98 73 4\\ 1.55 73 4\\
-1.95 74 3\\ -1.30 74 3\\ -0.66 74 4\\ 0.09 74 3\\ 0.78 74 3\\ 1.45 74 3\\
-1.54 75 3\\ -0.92 75 3\\ -0.22 75 3\\ 0.52 75 4\\ 1.11 75 3\\ 1.80 75 3\\
-1.22 76 3\\ -0.58 76 3\\ 0.16 76 3\\ 0.60 76 5\\ 1.29 76 4\\ 1.72 76 4\\
-1.83 77 3\\ -1.04 77 3\\ -0.34 77 3\\ 0.50 77 8\\ 1.07 77 3\\ 1.61 77 3\\
-1.59 78 4\\ -0.95 78 5\\ -0.15 78 3\\ 0.37 78 3\\ 0.94 78 3\\ 1.50 78 3\\
-1.58 79 8\\ -1.19 79 3\\ -0.47 79 4\\ 0.27 79 3\\ 0.75 79 4\\ 1.35 79 3\\
-1.90 80 3\\ -0.80 80 3\\ -0.08 80 3\\ 0.61 80 3\\ 1.17 80 3\\ 1.86 80 4\\
-1.34 81 5\\ -0.70 81 3\\ 0.07 81 3\\ 0.45 81 3\\ 1.03 81 3\\ 1.57 81 3\\
-1.70 82 3\\ -1.08 82 3\\ -0.36 82 3\\ 0.32 82 3\\ 0.90 82 4\\ 1.73 82 3\\
-1.48 83 3\\ -0.86 83 4\\ -0.17 83 4\\ 0.56 83 3\\ 1.26 83 3\\ 1.94 83 3\\
-1.92 84 4\\ -1.21 84 3\\ -0.55 84 3\\ 0.18 84 3\\ 0.67 84 4\\ 1.41 84 3\\
-1.61 85 3\\ -0.98 85 3\\ -0.29 85 3\\ 0.40 85 4\\ 1.09 85 3\\ 1.62 85 3\\
-1.27 86 3\\ -0.62 86 3\\ -0.06 86 4\\ 0.79 86 3\\ 1.32 86 3\\ 1.65 86 5\\
-1.81 87 3\\ -1.15 87 3\\ -0.44 87 3\\ 0.45 87 5\\ 1.19 87 3\\ 1.83 87 3\\
-1.52 88 3\\ -0.90 88 3\\ -0.24 88 3\\ 0.58 88 9\\ 1.46 88 4\\
-1.96 89 4\\ -1.26 89 3\\ -0.73 89 3\\ 0.13 89 3\\ 0.95 89 4\\ 1.85 89 4\\
-1.67 90 3\\ -1.02 90 3\\ -0.35 90 3\\ 0.22 90 3\\ 0.70 90 3\\ 1.35 90 4\\
-1.38 91 3\\ -0.78 91 3\\ -0.10 91 4\\ 0.49 91 3\\ 1.10 91 4\\ 1.90 91 9\\
-1.85 92 3\\ -1.21 92 3\\ -0.56 92 3\\ 0.36 92 3\\ 0.96 92 3\\ 1.52 92 3\\
};
\addplot[rast] table[x=x,y=y,meta=m,row sep=\\]{x y m\\
0.90 1 3\\ -0.54 2 3\\ 0.36 3 3\\ -0.12 4 4\\ -1.18 5 5\\ 1.13 6 4\\ 0.84 7 3\\ 0.59 8 4\\ -0.51 9 4\\ 1.29 10 4\\
0.45 11 3\\ 0.93 12 4\\ 0.34 13 4\\ 1.72 14 5\\ 0.47 15 5\\ 0.62 16 4\\ 0.90 17 3\\ -0.33 18 3\\ 0.42 19 4\\ 1.40 20 4\\
-1.23 21 3\\ -0.10 22 4\\ 0.78 23 4\\ 0.52 24 4\\ -0.53 25 4\\ -0.88 26 4\\ 0.62 27 4\\ 0.87 28 4\\ 0.53 29 3\\ 0.73 30 4\\
1.02 31 3\\ 1.26 32 4\\ 0.90 33 4\\ -0.52 34 4\\ 0.69 35 3\\ 0.46 36 4\\ 0.77 37 4\\ 1.23 38 3\\ 0.96 39 4\\ 0.50 40 3\\
0.41 41 4\\ 0.84 42 4\\ 0.59 43 4\\ 0.32 44 4\\ -0.31 45 3\\ 1.33 46 4\\ -0.51 47 4\\ 0.70 48 4\\ 0.51 49 3\\ 1.12 50 4\\
0.98 51 4\\ -0.17 52 4\\ 0.79 53 3\\ 1.17 54 4\\ -0.06 55 3\\ 0.43 56 4\\ 0.90 57 3\\ 0.53 58 3\\ -0.57 59 4\\ 0.65 60 4\\
1.63 61 4\\ 0.78 62 3\\ -0.26 63 4\\ 0.71 64 4\\ 0.30 65 3\\ 0.58 66 3\\ -0.31 67 4\\ 0.81 68 4\\ 1.23 69 4\\ -0.20 70 4\\
0.77 71 5\\ -0.66 72 4\\ 1.05 73 4\\ -0.59 74 4\\ 0.59 75 4\\ 1.36 76 4\\ 1.14 77 3\\ -0.88 78 5\\ 0.82 79 4\\ 0.68 80 3\\
0.52 81 3\\ 0.97 82 4\\ -0.10 83 4\\ 0.74 84 4\\ 0.47 85 4\\ 0.86 86 3\\ 0.52 87 5\\ 1.53 88 4\\ 1.02 89 4\\ 0.29 90 3\\
1.17 91 4\\ 1.03 92 3\\
};
\addplot[zline] coordinates {(0,0)(0,93)};
\end{axis}

% ---------- panel c3
\begin{axis}[cax, at={(539bp,52bp)}, width=158bp, height=205.4bp, ymax=107, ytick={0,20,40,60,80,100}]
\addplot[rast] table[x=x,y=y,meta=m,row sep=\\]{x y m\\
-1.76 1 3\\ -1.02 1 3\\ -0.42 1 3\\ 0.29 1 4\\ 0.93 1 3\\ 1.61 1 3\\
-1.98 2 9\\ -1.34 2 3\\ -0.69 2 4\\ 0.15 2 3\\ 1.13 2 8\\ 1.78 2 3\\
-1.52 3 3\\ -0.91 3 3\\ -0.13 3 3\\ 0.55 3 3\\ 1.42 3 3\\
-1.84 4 3\\ -1.18 4 3\\ -0.36 4 4\\ 0.52 4 9\\ 1.05 4 3\\ 1.90 4 3\\
-1.41 5 3\\ -0.77 5 3\\ 0.06 5 3\\ 0.81 5 3\\ 1.59 5 4\\
-1.69 6 3\\ -0.64 6 9\\ 0.24 6 3\\ 0.96 6 3\\ 1.73 6 3\\
-1.23 7 9\\ -0.48 7 3\\ 0.41 7 3\\ 1.38 7 9\\ 1.95 7 3\\
-1.88 8 3\\ -1.05 8 3\\ -0.21 8 3\\ 0.63 8 4\\ 1.22 8 3\\
-1.59 9 3\\ -0.82 9 3\\ 0.12 9 3\\ 0.74 9 3\\ 1.51 9 3\\
-1.95 10 3\\ -1.28 10 4\\ 0.37 10 9\\ 1.02 10 3\\ 1.83 10 3\\
-1.47 11 3\\ -0.61 11 3\\ -0.05 11 3\\ 0.89 11 4\\ 1.66 11 3\\
-1.81 12 3\\ -1.09 12 3\\ -0.31 12 3\\ 0.49 12 3\\ 1.31 12 3\\
-1.63 13 4\\ -0.93 13 3\\ 0.20 13 3\\ 0.72 13 3\\ 1.88 13 4\\
-1.30 14 3\\ -0.56 14 3\\ 0.05 14 3\\ 1.18 14 4\\ 1.56 14 3\\
-1.91 15 3\\ -1.14 15 3\\ -0.25 15 3\\ 0.58 15 3\\ 1.44 15 3\\
-0.80 16 9\\ -1.55 16 3\\ 0.27 16 4\\ 1.07 16 3\\ 1.79 16 3\\
-1.73 17 3\\ -1.21 17 3\\ -0.37 17 4\\ 0.68 17 3\\ 1.36 17 3\\
-1.97 18 3\\ -1.40 18 3\\ -0.15 18 3\\ 0.43 18 3\\ 1.50 18 4\\ 1.92 18 3\\
-0.42 19 9\\ 0.88 19 9\\ -1.62 19 3\\ 0.16 19 3\\ 1.67 19 3\\
-1.83 20 4\\ -1.11 20 3\\ -0.60 20 3\\ 0.36 20 3\\ 1.21 20 3\\
-1.48 21 3\\ -0.79 21 3\\ 0.02 21 3\\ 0.95 21 4\\ 1.74 21 3\\
-1.26 22 3\\ -0.49 22 3\\ 0.31 22 3\\ 1.11 22 3\\ 1.93 22 4\\
-1.77 23 4\\ -0.97 23 4\\ -0.19 23 3\\ 0.64 23 3\\ 1.44 23 3\\
-1.89 24 9\\ -1.57 24 9\\ -0.76 24 9\\ 0.22 24 3\\ 1.01 24 3\\ 1.63 24 3\\
-1.36 25 3\\ -0.43 25 4\\ 0.47 25 3\\ 1.29 25 3\\ 1.85 25 3\\
-1.71 26 3\\ -1.02 26 4\\ -0.26 26 4\\ 0.60 26 3\\ 1.48 26 4\\
-1.94 27 3\\ -1.19 27 3\\ -0.58 27 3\\ 0.09 27 3\\ 0.85 27 4\\ 1.69 27 3\\
-1.52 28 4\\ -0.86 28 3\\ 0.38 28 3\\ 1.16 28 3\\ 1.79 28 3\\
-1.30 29 3\\ -0.35 29 4\\ 0.21 29 3\\ 0.71 29 3\\ 1.90 29 4\\
0.85 30 9\\ -1.72 30 4\\ -1.03 30 3\\ -0.09 30 3\\ 1.55 30 3\\
-1.87 31 3\\ -1.44 31 3\\ -0.65 31 3\\ 0.27 31 4\\ 1.24 31 3\\
-1.17 32 3\\ -0.52 32 3\\ 0.13 32 3\\ 0.98 32 3\\ 1.75 32 4\\
-1.64 33 4\\ -0.89 33 3\\ -0.21 33 3\\ 0.48 33 3\\ 1.39 33 3\\
-1.96 34 3\\ -1.27 34 3\\ 0.07 34 4\\ 0.79 34 3\\ 1.35 34 4\\ 1.95 34 3\\
-1.53 35 3\\ -0.70 35 3\\ 0.33 35 3\\ 1.06 35 3\\ 1.62 35 4\\
-1.80 36 5\\ -1.09 36 3\\ -0.40 36 3\\ 0.58 36 3\\ 1.18 36 4\\
-1.35 37 3\\ -0.62 37 3\\ 0.18 37 3\\ 0.91 37 4\\ 1.71 37 3\\
-1.91 38 3\\ -1.13 38 3\\ -0.28 38 3\\ 0.45 38 3\\ 1.30 38 5\\
-1.68 39 4\\ -0.93 39 3\\ -0.05 39 3\\ 0.66 39 4\\ 1.84 39 3\\
-1.44 40 9\\ -0.71 40 3\\ 1.05 40 9\\ 1.54 40 9\\ 0.23 40 3\\
-1.86 41 3\\ -1.20 41 3\\ -0.45 41 3\\ 0.36 41 4\\ 1.30 41 4\\
-1.56 42 3\\ -0.82 42 3\\ -0.14 42 3\\ 0.69 42 3\\ 1.63 42 4\\
-1.74 43 9\\ -0.01 43 9\\ -1.05 43 3\\ 0.52 43 3\\ 1.24 43 4\\ 1.87 43 3\\
-1.37 44 3\\ -0.58 44 4\\ 0.28 44 3\\ 0.97 44 4\\ 1.77 44 3\\
-1.93 45 3\\ -1.18 45 3\\ -0.34 45 3\\ 0.41 45 3\\ 1.45 45 5\\
-1.62 46 4\\ -0.89 46 3\\ 0.12 46 3\\ 0.83 46 4\\ 1.58 46 4\\
-1.27 47 3\\ -0.69 47 4\\ 0.06 47 3\\ 0.60 47 3\\ 1.19 47 3\\ 1.92 47 3\\
-1.81 48 3\\ -1.06 48 3\\ -0.22 48 3\\ 0.47 48 3\\ 1.09 48 4\\ 1.68 48 3\\
-1.50 49 3\\ -0.52 49 5\\ 0.31 49 4\\ 1.40 49 4\\ 1.96 49 3\\
-1.74 50 3\\ -1.13 50 3\\ -0.37 50 3\\ 0.18 50 3\\ 0.78 50 3\\ 1.34 50 4\\
-2.00 51 9\\ -1.31 51 3\\ -0.85 51 3\\ 0.55 51 4\\ 1.71 51 3\\
-1.58 52 3\\ -0.64 52 3\\ -0.09 52 3\\ 1.02 52 3\\ 1.90 52 4\\
-1.89 53 3\\ -1.16 53 3\\ -0.41 53 3\\ 0.30 53 4\\ 1.27 53 4\\
1.44 54 9\\ -1.46 54 3\\ -0.73 54 3\\ 0.09 54 3\\ 0.68 54 3\\
-1.69 55 3\\ -0.98 55 3\\ -0.16 55 3\\ 0.92 55 4\\ 1.63 55 3\\
-1.95 56 3\\ -1.25 56 3\\ -0.53 56 3\\ 0.39 56 3\\ 1.22 56 3\\ 1.86 56 3\\
-1.41 57 4\\ -0.80 57 3\\ 0.01 57 3\\ 0.62 57 3\\ 1.47 57 3\\
-1.77 58 3\\ -1.07 58 3\\ -0.30 58 3\\ 0.23 58 3\\ 1.10 58 3\\ 1.74 58 3\\
-1.54 59 3\\ -0.66 59 3\\ 0.46 59 3\\ 0.86 59 4\\ 1.52 59 3\\
-1.85 60 3\\ -1.18 60 3\\ -0.12 60 3\\ 0.36 60 3\\ 1.31 60 3\\ 1.91 60 3\\
-1.32 61 3\\ -0.75 61 3\\ 0.14 61 3\\ 1.00 61 3\\ 1.62 61 4\\
-1.67 62 3\\ -0.93 62 4\\ -0.26 62 4\\ 0.71 62 3\\ 1.38 62 3\\
-1.97 63 3\\ -1.39 63 3\\ -0.47 63 3\\ 0.53 63 3\\ 1.17 63 3\\ 1.80 63 3\\
-1.21 64 3\\ -0.61 64 3\\ 0.08 64 3\\ 0.94 64 3\\ 1.69 64 4\\
-1.59 65 3\\ -0.84 65 3\\ -0.20 65 3\\ 0.31 65 4\\ 1.26 65 3\\
-1.86 66 3\\ -1.11 66 3\\ -0.39 66 3\\ 0.64 66 3\\ 1.48 66 3\\
-1.43 67 4\\ -0.72 67 3\\ 0.03 67 3\\ 0.82 67 4\\ 1.91 67 3\\
-1.72 68 3\\ -1.00 68 3\\ -0.29 68 3\\ 0.45 68 3\\ 1.13 68 3\\ 1.59 68 3\\
-1.94 69 3\\ -1.25 69 3\\ -0.55 69 3\\ 0.19 69 3\\ 0.88 69 3\\ 1.77 69 4\\
-1.51 70 3\\ -0.81 70 4\\ -0.06 70 4\\ 0.67 70 4\\ 1.35 70 3\\
-1.78 71 3\\ -1.13 71 3\\ -0.40 71 3\\ 0.56 71 5\\ 1.20 71 3\\ 1.87 71 3\\
-1.29 72 3\\ -0.63 72 3\\ 0.11 72 3\\ 0.97 72 3\\ 1.56 72 3\\
-1.65 73 3\\ -0.94 73 3\\ -0.22 73 3\\ 0.41 73 4\\ 1.43 73 4\\
-1.91 74 3\\ -1.19 74 3\\ -0.48 74 3\\ 0.28 74 3\\ 0.80 74 4\\ 1.72 74 3\\
-1.42 75 4\\ -0.75 75 3\\ 0.07 75 3\\ 1.05 75 3\\ 1.95 75 4\\
-1.80 76 3\\ -1.06 76 3\\ -0.33 76 4\\ 0.54 76 3\\ 1.29 76 3\\
-1.55 77 3\\ -0.87 77 3\\ -0.13 77 3\\ 0.77 77 4\\ 1.64 77 3\\
-1.93 78 3\\ -1.26 78 3\\ -0.58 78 3\\ 0.25 78 3\\ 0.96 78 3\\ 1.45 78 4\\
-1.38 79 4\\ -0.69 79 3\\ 0.15 79 3\\ 0.69 79 4\\ 1.24 79 3\\ 1.83 79 3\\
-1.71 80 3\\ -1.04 80 3\\ -0.02 80 5\\ 0.90 80 3\\ 1.57 80 3\\
-1.74 81 9\\ 1.84 81 9\\ -0.88 81 3\\ 0.44 81 4\\ 1.17 81 3\\
-1.47 82 4\\ -1.18 82 3\\ -0.30 82 3\\ 0.82 82 4\\ 1.50 82 3\\
-1.92 83 3\\ -0.61 83 3\\ 0.21 83 3\\ 1.00 83 3\\ 1.73 83 3\\
-1.61 84 3\\ -0.97 84 3\\ -0.24 84 3\\ 0.58 84 4\\ 1.35 84 4\\
-1.84 85 3\\ -1.32 85 3\\ -0.45 85 4\\ 0.34 85 3\\ 1.12 85 3\\ 1.93 85 3\\
-1.49 86 3\\ -0.79 86 3\\ 0.06 86 4\\ 0.73 86 3\\ 1.62 86 3\\
-1.76 87 4\\ -1.10 87 3\\ -0.37 87 3\\ 0.49 87 3\\ 1.26 87 3\\ 1.89 87 4\\
-1.58 88 4\\ -0.92 88 3\\ -0.16 88 3\\ 1.06 88 4\\ 1.46 88 3\\
-0.83 89 9\\ -0.41 89 9\\ -1.87 89 3\\ -1.23 89 3\\ 0.28 89 3\\ 1.70 89 3\\
-1.63 90 4\\ -0.64 90 3\\ 0.11 90 3\\ 0.88 90 4\\ 1.33 90 4\\
-1.95 91 3\\ -1.34 91 3\\ -0.20 91 3\\ 0.53 91 4\\ 1.21 91 3\\ 1.90 91 4\\
0.65 92 9\\ -1.70 92 3\\ -1.03 92 3\\ -0.46 92 3\\ 1.55 92 3\\
-1.45 93 4\\ -0.80 93 3\\ 0.04 93 3\\ 0.94 93 3\\ 1.78 93 3\\
-1.88 94 3\\ -1.15 94 4\\ -0.33 94 3\\ 0.39 94 3\\ 1.28 94 3\\
-1.58 95 4\\ -0.90 95 3\\ -0.08 95 3\\ 0.70 95 3\\ 1.65 95 4\\
1.83 96 9\\ -1.79 96 3\\ -1.22 96 4\\ -0.52 96 3\\ 0.27 96 3\\ 1.09 96 3\\
-1.46 97 3\\ -0.73 97 3\\ 0.14 97 3\\ 0.82 97 3\\ 1.42 97 3\\
-1.93 98 3\\ -1.08 98 3\\ -0.27 98 3\\ 0.57 98 3\\ 1.17 98 4\\ 1.86 98 3\\
-1.65 99 4\\ -0.95 99 3\\ -0.11 99 3\\ 0.46 99 3\\ 1.56 99 3\\
-1.31 100 3\\ -0.57 100 3\\ 0.22 100 3\\ 1.00 100 3\\ 1.94 100 4\\
-0.30 101 9\\ -1.82 101 4\\ -1.13 101 3\\ 0.35 101 3\\ 1.32 101 3\\
-1.55 102 4\\ -0.81 102 3\\ 0.08 102 3\\ 0.75 102 3\\ 1.68 102 3\\
-1.90 103 3\\ -1.24 103 3\\ -0.46 103 3\\ 0.60 103 4\\ 1.38 103 3\\
-1.69 104 3\\ -0.97 104 3\\ -0.17 104 3\\ 0.25 104 3\\ 1.14 104 3\\ 1.80 104 3\\
-1.44 105 4\\ -0.71 105 3\\ 0.12 105 3\\ 0.87 105 3\\ 1.55 105 3\\
-1.61 106 9\\ -1.05 106 3\\ -0.40 106 3\\ 0.43 106 3\\ 1.23 106 4\\ 1.91 106 3\\
};
\addplot[rast] table[x=x,y=y,meta=m,row sep=\\]{x y m\\
0.36 1 4\\ -0.62 2 4\\ 0.62 3 3\\ -0.29 4 4\\ 0.88 5 3\\ 1.03 6 3\\ 0.48 7 3\\ 0.70 8 4\\ 0.81 9 3\\ 1.09 10 3\\
0.96 11 4\\ 0.56 12 3\\ 0.79 13 3\\ 1.25 14 4\\ 0.65 15 3\\ 0.34 16 4\\ -0.30 17 4\\ 0.50 18 3\\ 0.23 19 3\\ 0.43 20 3\\
1.02 21 4\\ 0.38 22 3\\ -0.90 23 4\\ 0.29 24 3\\ -0.36 25 4\\ -0.19 26 4\\ 0.92 27 4\\ 0.45 28 3\\ -0.28 29 4\\ -1.65 30 4\\
0.34 31 4\\ 1.05 32 3\\ 0.55 33 3\\ 0.14 34 4\\ 1.13 35 3\\ 1.25 36 4\\ 0.98 37 4\\ 1.37 38 5\\ 0.73 39 4\\ 0.30 40 3\\
0.43 41 4\\ 0.76 42 3\\ 1.31 43 4\\ 1.04 44 4\\ 1.52 45 5\\ 0.90 46 4\\ -0.62 47 4\\ 1.16 48 4\\ 0.38 49 4\\ 1.41 50 4\\
0.62 51 4\\ 1.09 52 3\\ 0.37 53 4\\ 0.75 54 3\\ 0.99 55 4\\ 0.46 56 3\\ 0.69 57 3\\ 1.17 58 3\\ 0.93 59 4\\ 0.43 60 3\\
1.07 61 3\\ -0.19 62 4\\ 0.60 63 3\\ 1.01 64 3\\ 0.38 65 4\\ 0.71 66 3\\ 0.89 67 4\\ 0.52 68 3\\ 0.95 69 3\\ 0.74 70 4\\
0.63 71 5\\ 1.04 72 3\\ 0.48 73 4\\ 0.87 74 4\\ -0.68 75 3\\ -0.26 76 4\\ 0.84 77 4\\ 1.52 78 4\\ 0.76 79 4\\ 0.05 80 5\\
0.51 81 4\\ 0.89 82 4\\ 1.07 83 3\\ 0.65 84 4\\ -0.38 85 4\\ 0.13 86 4\\ 0.56 87 3\\ 1.13 88 4\\ 0.35 89 3\\ 0.95 90 4\\
0.60 91 4\\ -0.39 92 3\\ 1.01 93 3\\ -1.08 94 4\\ 0.77 95 3\\ 0.34 96 3\\ 0.89 97 3\\ 1.24 98 4\\ 0.53 99 3\\ 0.29 100 3\\
0.42 101 3\\ 0.82 102 3\\ 0.67 103 4\\ 0.32 104 3\\ 0.94 105 3\\ 0.50 106 3\\
};
\addplot[zline] coordinates {(0,0)(0,107)};
\end{axis}

% labels panel c
\node[font=\fs{19}] at (130,834-547) {0.068 cpd};
\node[font=\fs{19}] at (368,834-552) {0.272 cpd};
\node[font=\fs{19}] at (595,834-550) {1.088 cpd};
\node[font=\fs{19.5}] at (163,834-822) {Time(s)};
\node[font=\fs{19.5}] at (397,834-822) {Time(s)};
\node[font=\fs{19.5}] at (618,834-822) {Time(s)};
\node[font=\fs{19}, rotate=90] at (39,834-680) {\#Trial};
% colour scale
\shade[top color=black, bottom color=black!25] (719,834-588) -- (735,834-588) -- (727,834-672) -- (720,834-672) -- cycle;
\draw[black!60, line width=0.6bp] (719,834-588) -- (735,834-588) -- (727,834-672) -- (720,834-672) -- cycle;
\node[font=\fs{15}] at (724,834-561) {\#chp};
\node[font=\fs{16}] at (727,834-579) {10};
\node[font=\fs{16}] at (724,834-684) {1};
\end{tikzpicture}
\end{document}
